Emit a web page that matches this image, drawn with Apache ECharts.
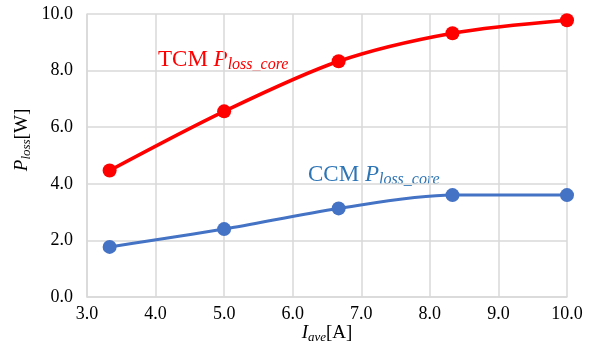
<!DOCTYPE html>
<html>
<head>
<meta charset="utf-8">
<script src="https://cdn.jsdelivr.net/npm/echarts@6/dist/echarts.min.js"></script>
<style>html,body{margin:0;padding:0;background:#fff}#c{width:597px;height:344px}</style>
</head>
<body>
<div id="c"></div>
<script>
var xValues = [3.33, 5.0, 6.67, 8.33, 10.0];
var tcmValues = [4.47, 6.56, 8.33, 9.32, 9.78];
var ccmValues = [1.77, 2.40, 3.13, 3.60, 3.60];
var xTicks = [3, 4, 5, 6, 7, 8, 9, 10];
var yTicks = [0, 2, 4, 6, 8, 10];

var FONT = '"Liberation Serif","Times New Roman",serif';
var chart = echarts.init(document.getElementById('c'));
function pairs(xs, ys){ return xs.map(function(x,i){return [x, ys[i]];}); }
var nameRich = {
  i: {fontFamily: FONT, fontStyle: 'italic', fontSize: 19, fill: '#000'},
  s: {fontFamily: FONT, fontStyle: 'italic', fontSize: 13, fill: '#000', padding: [9,0,0,0]},
  n: {fontFamily: FONT, fontSize: 19, fill: '#000'}
};
chart.setOption({
  animation: false,
  grid: {left: 87, right: 30, top: 14, bottom: 47, containLabel: false, outerBoundsMode: 'none'},
  xAxis: {
    type: 'value', min: 3, max: 10, interval: 1,
    axisLine: {show: true, lineStyle: {color: '#D9D9D9', width: 1.5}},
    axisTick: {show: false},
    splitLine: {show: true, lineStyle: {color: '#D9D9D9', width: 1.5}},
    axisLabel: {color: '#000', fontFamily: FONT, fontSize: 18, margin: 8,
      formatter: function(v){ return v.toFixed(1); }}
  },
  yAxis: {
    type: 'value', min: 0, max: 10, interval: 2,
    axisLine: {show: true, lineStyle: {color: '#D9D9D9', width: 1.5}},
    axisTick: {show: false},
    splitLine: {show: true, lineStyle: {color: '#D9D9D9', width: 1.5}},
    axisLabel: {color: '#000', fontFamily: FONT, fontSize: 18, margin: 14,
      formatter: function(v){ return v.toFixed(1); }}
  },
  series: [
    {type: 'line', data: pairs(xValues, tcmValues), symbol: 'circle', symbolSize: 14, smooth: 0.3,
     lineStyle: {color: '#FF0000', width: 3.5}, itemStyle: {color: '#FF0000'}},
    {type: 'line', data: pairs(xValues, ccmValues), symbol: 'circle', symbolSize: 14, smooth: 0.3,
     lineStyle: {color: '#4472C4', width: 3}, itemStyle: {color: '#4472C4'}}
  ],
  graphic: [
    {type: 'text', x: 327, y: 333, style: {
      text: '{i|I}{s|ave}{n|[A]}', rich: nameRich, align: 'center', verticalAlign: 'middle'}},
    {type: 'text', x: 22, y: 140, rotation: Math.PI / 2, style: {
      text: '{i|P}{s|loss}{n|[W]}', rich: nameRich, align: 'center', verticalAlign: 'middle'}},
    {type: 'text', left: 158, top: 48, style: {
      text: '{a|TCM }{i|P}{s|loss_core}',
      rich: {
        a: {fontFamily: FONT, fontSize: 23, fill: '#FF0000'},
        i: {fontFamily: FONT, fontStyle: 'italic', fontSize: 23, fill: '#FF0000'},
        s: {fontFamily: FONT, fontStyle: 'italic', fontSize: 16, fill: '#FF0000', padding: [11,0,0,0]}
      }}},
    {type: 'text', left: 308, top: 163, style: {
      text: '{a|CCM }{i|P}{s|loss_core}',
      rich: {
        a: {fontFamily: FONT, fontSize: 23, fill: '#2E75B6'},
        i: {fontFamily: FONT, fontStyle: 'italic', fontSize: 23, fill: '#2E75B6'},
        s: {fontFamily: FONT, fontStyle: 'italic', fontSize: 16, fill: '#2E75B6', padding: [11,0,0,0]}
      }}}
  ]
});
</script>
</body>
</html>
